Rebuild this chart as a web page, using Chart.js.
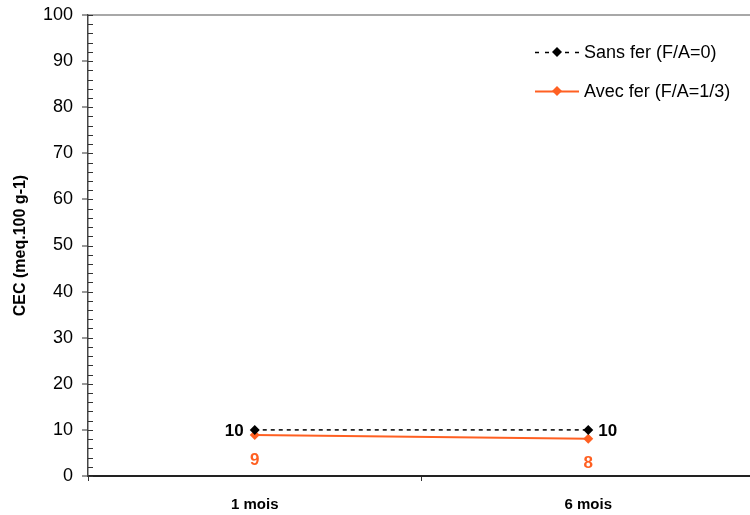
<!DOCTYPE html>
<html>
<head>
<meta charset="utf-8">
<script src="https://cdn.jsdelivr.net/npm/chart.js@4"></script>
<style>
  html, body { margin: 0; padding: 0; background: #fff; overflow: hidden; }
  #wrap { width: 760px; height: 515px; }
</style>
</head>
<body>
<div id="wrap"><canvas id="chart-cec" width="760" height="515"></canvas></div>
<script>
// données
const categories = ['1 mois', '6 mois'];
const sansFer = [10, 10];
const avecFer = [8.9, 8.1];
const seriesNames = ['Sans fer (F/A=0)', 'Avec fer (F/A=1/3)'];
const yTicks = [0, 10, 20, 30, 40, 50, 60, 70, 80, 90, 100];

const ORANGE = '#ff6022';
const FONT = 'Arial, "Liberation Sans", sans-serif';

// petites graduations + moitié intérieure des grandes
const minorTicks = {
  id: 'minorTicks',
  afterDraw(chart) {
    const ctx = chart.ctx;
    const y = chart.scales.y;
    const x0 = chart.chartArea.left;
    ctx.save();
    ctx.strokeStyle = '#333';
    ctx.lineWidth = 1;
    for (let v = 0; v <= 100; v += 2) {
      const py = Math.round(y.getPixelForValue(v)) + 0.5;
      ctx.beginPath();
      ctx.moveTo(x0, py);
      ctx.lineTo(x0 + 5, py);
      ctx.stroke();
    }
    ctx.restore();
  }
};

// étiquettes de valeurs
const valueLabels = {
  id: 'valueLabels',
  afterDatasetsDraw(chart) {
    const ctx = chart.ctx;
    ctx.save();
    ctx.font = 'bold 17px ' + FONT;
    ctx.textBaseline = 'middle';
    const m0 = chart.getDatasetMeta(0).data;
    ctx.fillStyle = '#000';
    m0.forEach((pt, i) => {
      const txt = Math.round(sansFer[i]).toString();
      if (i == 0) {
        ctx.textAlign = 'right';
        ctx.fillText(txt, pt.x - 11, pt.y + 1);
      } else {
        ctx.textAlign = 'left';
        ctx.fillText(txt, pt.x + 10, pt.y + 1);
      }
    });
    const m1 = chart.getDatasetMeta(1).data;
    ctx.fillStyle = ORANGE;
    ctx.textAlign = 'center';
    m1.forEach((pt, i) => {
      ctx.fillText(Math.round(avecFer[i]).toString(), pt.x, pt.y + 25);
    });
    ctx.restore();
  }
};

// légende dessinée à la main (coin haut droit)
const cornerLegend = {
  id: 'cornerLegend',
  afterDraw(chart) {
    const ctx = chart.ctx;
    ctx.save();
    chart.data.datasets.forEach((ds, i) => {
      const cy = 52 + i * 39;
      ctx.strokeStyle = ds.borderColor;
      ctx.lineWidth = ds.borderWidth;
      ctx.setLineDash(ds.borderDash ? [4, 6] : []);
      ctx.beginPath();
      ctx.moveTo(535, cy + 0.5);
      ctx.lineTo(579, cy + 0.5);
      ctx.stroke();
      ctx.setLineDash([]);
      ctx.fillStyle = ds.pointBackgroundColor;
      ctx.beginPath();
      ctx.moveTo(557, cy - 5);
      ctx.lineTo(562, cy);
      ctx.lineTo(557, cy + 5);
      ctx.lineTo(552, cy);
      ctx.closePath();
      ctx.fill();
      ctx.fillStyle = '#000';
      ctx.font = '18px ' + FONT;
      ctx.textAlign = 'left';
      ctx.textBaseline = 'middle';
      ctx.fillText(ds.label, 584, cy + 1);
    });
    ctx.restore();
  }
};

const ctx = document.getElementById('chart-cec').getContext('2d');
new Chart(ctx, {
  type: 'line',
  data: {
    labels: categories,
    datasets: [
      {
        label: seriesNames[0],
        data: sansFer,
        borderColor: '#000',
        borderWidth: 1.5,
        borderDash: [4, 4],
        pointStyle: 'rectRot',
        pointRadius: 5,
        pointBackgroundColor: '#000',
        pointBorderColor: '#000',
        pointBorderWidth: 0,
        fill: false,
      },
      {
        label: seriesNames[1],
        data: avecFer,
        borderColor: ORANGE,
        borderWidth: 2,
        pointStyle: 'rectRot',
        pointRadius: 5,
        pointBackgroundColor: ORANGE,
        pointBorderColor: ORANGE,
        pointBorderWidth: 0,
        fill: false,
      },
    ],
  },
  options: {
    responsive: false,
    animation: false,
    layout: { padding: { top: 15, right: 2, left: 0, bottom: 0 } },
    plugins: {
      legend: { display: false },
      tooltip: { enabled: false },
    },
    scales: {
      x: {
        offset: true,
        grid: {
          offset: true,
          drawOnChartArea: false,
          tickLength: 5,
          tickColor: '#333',
        },
        border: { color: '#222', width: 2 },
        ticks: {
          color: '#000',
          font: { family: FONT, size: 15, weight: 'bold' },
          padding: 15,
        },
        afterFit: s => { s.height = 39; s.paddingLeft = 0; s.paddingRight = 0; },
      },
      y: {
        min: 0,
        max: 100,
        afterBuildTicks: s => { s.ticks = yTicks.map(v => ({ value: v })); },
        grid: {
          color: c => (c.tick && c.tick.value == 100 ? '#a8a8a8' : 'rgba(0,0,0,0)'),
          lineWidth: 2,
          tickLength: 6,
          tickColor: '#333',
          tickWidth: 1,
        },
        border: { color: '#444', width: 1.5 },
        ticks: {
          color: '#000',
          font: { family: FONT, size: 18 },
          padding: 9,
        },
        title: {
          display: true,
          text: 'CEC (meq.100 g-1)',
          color: '#000',
          font: { family: FONT, size: 16, weight: 'bold' },
          padding: { top: 11, bottom: 0 },
        },
        afterFit: s => { s.width = 88; s.paddingTop = 0; s.paddingBottom = 0; },
      },
    },
  },
  plugins: [minorTicks, valueLabels, cornerLegend],
});
</script>
</body>
</html>
